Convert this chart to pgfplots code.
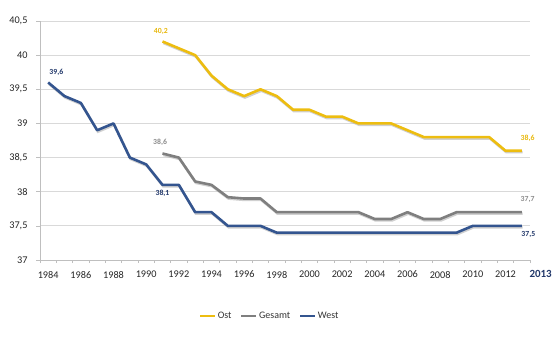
\documentclass[border=0pt]{standalone}
\usepackage{pgfplots}
\pgfplotsset{compat=1.18}
\usepackage{pgfplotstable}
\usepackage{fontspec}
\setmainfont{Carlito}

\definecolor{ostc}{HTML}{EDBD10}
\definecolor{gesc}{HTML}{7F7F7F}
\definecolor{westc}{HTML}{34558F}
\definecolor{ostl}{HTML}{E8B80C}
\definecolor{gesl}{HTML}{8C8C8C}
\definecolor{westl}{HTML}{23396B}
\definecolor{gridc}{HTML}{D9D9D9}
\definecolor{axc}{HTML}{BFBFBF}
\definecolor{shadowc}{HTML}{B0B0B0}

\pgfplotstableread{
year val
1984 39.6
1985 39.4
1986 39.3
1987 38.9
1988 39.0
1989 38.5
1990 38.4
1991 38.1
1992 38.1
1993 37.7
1994 37.7
1995 37.5
1996 37.5
1997 37.5
1998 37.4
1999 37.4
2000 37.4
2001 37.4
2002 37.4
2003 37.4
2004 37.4
2005 37.4
2006 37.4
2007 37.4
2008 37.4
2009 37.4
2010 37.5
2011 37.5
2012 37.5
2013 37.5
}\westdata

\pgfplotstableread{
year val
1991 38.56
1992 38.5
1993 38.15
1994 38.1
1995 37.92
1996 37.9
1997 37.9
1998 37.7
1999 37.7
2000 37.7
2001 37.7
2002 37.7
2003 37.7
2004 37.6
2005 37.6
2006 37.7
2007 37.6
2008 37.6
2009 37.7
2010 37.7
2011 37.7
2012 37.7
2013 37.7
}\gesdata

\pgfplotstableread{
year val
1991 40.2
1992 40.1
1993 40.0
1994 39.7
1995 39.5
1996 39.4
1997 39.5
1998 39.4
1999 39.2
2000 39.2
2001 39.1
2002 39.1
2003 39.0
2004 39.0
2005 39.0
2006 38.9
2007 38.8
2008 38.8
2009 38.8
2010 38.8
2011 38.8
2012 38.6
2013 38.6
}\ostdata

\begin{document}
\begin{tikzpicture}
\useasboundingbox (-40bp,-91bp) rectangle (519bp,260bp);
\begin{axis}[
  scale only axis,
  width=490bp, height=239bp,
  at={(0,0)}, anchor=south west,
  xmin=1983.5, xmax=2013.5,
  ymin=37, ymax=40.5,
  clip=false,
  axis x line*=bottom,
  axis y line*=left,
  axis line style={axc, line width=0.8pt},
  xtick={1984,1986,...,2012},
  minor xtick={1983.5,1984.5,...,2013.6},
  major x tick style={draw=none},
  minor x tick style={axc, line width=0.6pt},
  minor tick length=3bp,
  ytick={37,37.5,...,40.5},
  yticklabels={{37},{37,5},{38},{38,5},{39},{39,5},{40},{40,5}},
  major y tick style={axc, line width=0.6pt},
  major tick length=4bp,
  tick align=outside,
  ymajorgrids,
  grid style={gridc, line width=0.8pt},
  x tick label style={font=\fontsize{10.3}{11}\selectfont, color=black!85, /pgf/number format/1000 sep={}},
  y tick label style={font=\fontsize{10.3}{11}\selectfont, color=black!85},
  /pgf/number format/assume math mode=true,
  xticklabel style={yshift=-3.5bp},
  yticklabel style={xshift=-5bp},
  legend style={at={(0.469,-0.234)}, anchor=center, draw=none, fill=none,
    legend columns=3, font=\fontsize{10}{11}\selectfont, text=black!80,
    /tikz/every even column/.append style={column sep=7bp}},
  legend image code/.code={\draw[#1, line width=1.6pt] (0bp,0bp) -- (15bp,0bp);},
  legend cell align=left,
]
% shadows
\addplot[shadowc, line width=2.6pt, opacity=0.6, forget plot, transform canvas={xshift=0.8bp, yshift=-1.4bp}] table[x=year,y=val] {\ostdata};
\addplot[shadowc, line width=2.6pt, opacity=0.6, forget plot, transform canvas={xshift=0.8bp, yshift=-1.4bp}] table[x=year,y=val] {\gesdata};
\addplot[shadowc, line width=2.6pt, opacity=0.6, forget plot, transform canvas={xshift=0.8bp, yshift=-1.4bp}] table[x=year,y=val] {\westdata};
% series
\addplot[ostc, line width=2.6pt, line join=round] table[x=year,y=val] {\ostdata};
\addlegendentry{Ost}
\addplot[gesc, line width=2.6pt, line join=round] table[x=year,y=val] {\gesdata};
\addlegendentry{Gesamt}
\addplot[westc, line width=2.6pt, line join=round] table[x=year,y=val] {\westdata};
\addlegendentry{West}
% data labels
\tikzset{dl/.style={font=\fontsize{7.8}{8}\selectfont\bfseries, inner sep=0pt}}
\node[dl, ostl] at (axis cs:1990.9,40.35) {40,2};
\node[dl, westl] at (axis cs:1984.5,39.75) {39,6};
\node[dl, gesl] at (axis cs:1990.85,38.72) {38,6};
\node[dl, westl] at (axis cs:1991.0,37.97) {38,1};
\node[dl, ostl] at (axis cs:2013.35,38.78) {38,6};
\node[dl, gesl] at (axis cs:2013.35,37.88) {37,7};
\node[dl, westl] at (axis cs:2013.4,37.38) {37,5};
\node[font=\fontsize{11}{12}\selectfont\bfseries, text=westl, inner sep=0pt] at (axis cs:2014.15,36.8) {2013};
\end{axis}
\end{tikzpicture}
\end{document}
